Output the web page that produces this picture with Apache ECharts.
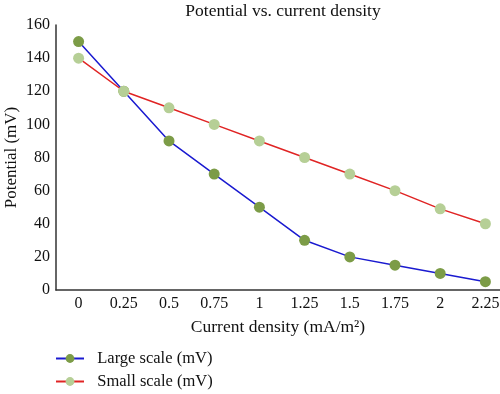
<!DOCTYPE html>
<html><head><meta charset="utf-8">
<script src="https://cdn.jsdelivr.net/npm/echarts@6/dist/echarts.min.js"></script>
<style>html,body{margin:0;padding:0;background:#fff}#c{width:500px;height:394px}</style>
</head><body><div id="c"></div>
<script>
const categories = ['0','0.25','0.5','0.75','1','1.25','1.5','1.75','2','2.25'];
const largeScale = [150,120,90,70,50,30,20,15,10,5];
const smallScale = [140,120,110,100,90,80,70,60,49,40];
const yTicks = [0,20,40,60,80,100,120,140,160];

const font = 'Liberation Serif';
const chart = echarts.init(document.getElementById('c'));
chart.setOption({
  backgroundColor:'#fff',
  animation:false,
  title:{text:'Potential vs. current density',left:278,top:-3,textAlign:'center',
    textStyle:{fontFamily:font,fontWeight:'normal',fontSize:17.5,color:'#111'}},
  grid:{left:56,right:-8,top:25,bottom:104,containLabel:false,outerBoundsMode:'none'},
  legend:{orient:'vertical',left:50,top:345,height:48,itemWidth:28,itemHeight:11,itemGap:6,
    formatter:n=>'  '+n,
    textStyle:{fontFamily:font,fontSize:16.5,color:'#111'},
    data:['Large scale (mV)','Small scale (mV)']},
  xAxis:{type:'category',data:categories,boundaryGap:true,
    axisLine:{lineStyle:{color:'#333',width:1.5}},axisTick:{show:false},
    axisLabel:{fontFamily:font,fontSize:16,color:'#111',margin:6},
    name:'Current density (mA/m²)',nameLocation:'middle',nameGap:28,nameMoveOverlap:false,
    nameTextStyle:{fontFamily:font,fontSize:17.5,color:'#111',padding:[0,8,0,0]}},
  yAxis:{type:'value',min:0,max:160,interval:20,
    axisLine:{show:true,lineStyle:{color:'#333',width:1.5}},axisTick:{show:false},
    splitLine:{show:false},
    axisLabel:{fontFamily:font,fontSize:16,color:'#111',margin:6,
      formatter:v=>yTicks.includes(v)?String(v):''},
    name:'Potential (mV)',nameLocation:'middle',nameGap:36,nameRotate:90,nameMoveOverlap:false,
    nameTextStyle:{fontFamily:font,fontSize:17,color:'#111'}},
  series:[
    {name:'Large scale (mV)',type:'line',data:largeScale,symbol:'circle',symbolSize:11,
      lineStyle:{color:'#1a1ad0',width:1.5},itemStyle:{color:'#7c9c47'}},
    {name:'Small scale (mV)',type:'line',data:smallScale,symbol:'circle',symbolSize:11,
      lineStyle:{color:'#e02424',width:1.5},itemStyle:{color:'#b6cf96'}}
  ]
});
</script></body></html>
